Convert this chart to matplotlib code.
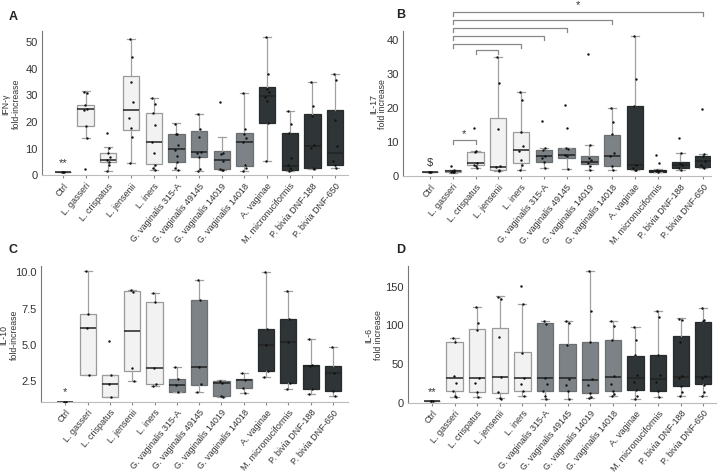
import matplotlib
matplotlib.use("Agg")
import matplotlib.pyplot as plt
from matplotlib import font_manager

plt.rcParams['font.family'] = ['Liberation Sans', 'DejaVu Sans']

# narrow face for the crowded category labels, if there is one
names = set(f.name for f in font_manager.fontManager.ttflist)
if 'Liberation Sans Narrow' in names:
    xfont, xsize = 'Liberation Sans Narrow', 7.6
else:
    xfont, xsize = 'Liberation Sans', 6.5

# categories
labels = ['Ctrl', 'L. gasseri', 'L. crispatus', 'L. jensenii', 'L. iners',
          'G. vaginalis 315-A', 'G. vaginalis 49145', 'G. vaginalis 14019',
          'G. vaginalis 14018', 'A. vaginae', 'M. micronuciformis',
          'P. bivia DNF-188', 'P. bivia DNF-650']
groups = ['ctrl', 'lac', 'lac', 'lac', 'lac', 'gv', 'gv', 'gv', 'gv', 'bv', 'bv', 'bv', 'bv']

# IFN-g (panel A)
ifng_q1 = [1, 18.1, 4.5, 16.4, 3.75, 4.75, 6.6, 1.9, 3.0, 19.3, 1.6, 2.2, 3.5]
ifng_med = [1, 24.4, 5.5, 24.2, 12.1, 9.6, 8.5, 5.4, 11.9, 29.5, 3.0, 10.5, 8.0]
ifng_q3 = [1, 25.9, 8.0, 36.9, 23.1, 15.0, 16.1, 8.6, 15.5, 32.6, 15.4, 22.6, 24.2]
ifng_lo = [1, 13.4, 1.2, 4.2, 1.6, 1.4, 1.2, 1.4, 1.2, 5.0, 1.2, 1.8, 2.2]
ifng_hi = [1, 31.2, 10.2, 50.6, 28.7, 19.3, 22.4, 13.8, 30.5, 51.6, 23.7, 34.7, 37.4]
ifng_pts = [[1, 1, 1], [31, 30.5, 26, 24.5, 24, 18, 13.4, 1.9],
            [15.3, 10, 8, 6.5, 5.5, 4.7, 3.3, 1.2],
            [50.6, 44, 34.5, 27, 21, 17.5, 14, 4.2],
            [28.7, 26.5, 23, 18.5, 12, 8, 3.5, 2.5, 1.6],
            [19, 15, 15, 11, 9, 7, 4.5, 2.5, 1.4],
            [22.4, 17, 14, 8.5, 8, 6.5, 2, 1.2],
            [27, 8, 7.5, 5, 2, 1.5, 1.5],
            [30.5, 17, 15, 13.5, 12, 3.5, 2.5, 1.2],
            [51.6, 37.5, 32, 31, 29, 27.5, 19.3, 5],
            [23.7, 19, 15.4, 6, 3.5, 2.5, 1.5, 1.2],
            [34.7, 25.5, 22, 11, 10, 2.2, 1.8],
            [37.4, 35.5, 20.5, 10.5, 5, 3.5, 2.2]]

# IL-17 (panel B)
il17_q1 = [1, 0.9, 2.9, 1.4, 3.4, 3.7, 5.1, 3.2, 2.7, 1.7, 1.0, 2.0, 2.2]
il17_med = [1, 1.1, 3.5, 2.2, 7.3, 5.6, 6.0, 3.9, 5.6, 2.8, 1.3, 2.9, 4.0]
il17_q3 = [1, 1.4, 6.9, 16.8, 12.6, 7.3, 7.8, 5.5, 11.7, 20.4, 1.6, 3.8, 5.6]
il17_lo = [1, 0.7, 2.0, 1.1, 1.5, 1.9, 1.7, 1.5, 1.5, 1.4, 0.8, 1.6, 2.0]
il17_hi = [1, 1.6, 7.1, 34.6, 24.3, 7.9, 8.0, 8.7, 19.7, 40.9, 1.7, 6.5, 6.3]
il17_pts = [[1, 1, 1], [2.6, 1.4, 1.2, 1.1, 1.0, 0.9, 0.8],
            [13.8, 7, 6.7, 3.5, 3, 2.5, 2],
            [34.6, 27, 13.5, 2.7, 2.2, 1.4, 1.1],
            [24.3, 22, 12.5, 8.5, 7, 4.5, 3, 1.5],
            [16, 7.9, 7.3, 5.5, 5, 3.7, 1.9],
            [20.7, 13.8, 8, 7.5, 6, 5.5, 1.7],
            [35.7, 8.7, 5, 4.5, 3.5, 2.5, 1.5],
            [19.7, 15.5, 12, 6.5, 5.5, 2.7, 1.5],
            [40.9, 28.2, 20.4, 2.8, 2, 1.5, 1.4],
            [5.8, 3.5, 1.6, 1.3, 1.1, 1.0],
            [11, 6.5, 3.5, 2.9, 2, 1.6],
            [19.4, 6.3, 5.5, 4, 3, 2.2, 2]]

# IL-10 (panel C)
il10_q1 = [1, 2.83, 1.34, 3.12, 2.25, 1.65, 2.16, 1.36, 1.92, 3.12, 2.31, 1.85, 1.76]
il10_med = [1, 6.12, 2.2, 5.9, 3.32, 2.14, 3.36, 2.27, 2.5, 4.94, 5.14, 3.43, 3.0]
il10_q3 = [1, 7.06, 2.87, 8.62, 7.9, 2.54, 8.0, 2.43, 2.54, 6.04, 6.68, 3.52, 3.47]
il10_lo = [1, 2.83, 1.34, 2.43, 2.09, 1.65, 1.69, 1.29, 1.6, 2.7, 1.87, 1.54, 1.36]
il10_hi = [1, 10.02, 2.87, 8.73, 8.5, 3.39, 9.44, 2.47, 2.98, 9.98, 8.66, 5.32, 4.74]
il10_pts = [[1, 1], [10, 7.06, 6.12, 2.83], [5.2, 2.87, 2.2, 1.34],
            [8.7, 8.55, 3.3, 2.43], [8.5, 7.9, 3.32, 2.25, 2.09],
            [3.39, 2.54, 2.14, 1.65], [9.44, 8.0, 3.36, 2.2, 1.69],
            [2.43, 2.3, 1.36, 1.29], [2.98, 2.5, 1.92, 1.6],
            [9.98, 6.04, 4.94, 3.12, 2.7], [8.66, 6.68, 5.14, 2.31, 1.87],
            [5.32, 3.5, 3.43, 1.85, 1.54], [4.74, 3.0, 1.76, 1.36]]

# IL-6 (panel D)
il6_q1 = [1, 13.7, 12, 11.6, 14.1, 14.1, 13.7, 11.6, 13.7, 15.3, 14.5, 20.3, 22.4]
il6_med = [1, 30.7, 30.7, 31.5, 30.3, 30.7, 30.3, 28.6, 31.5, 30.7, 29.4, 31.9, 31.9]
il6_q3 = [1, 76.7, 94, 96, 63.8, 101.5, 74.2, 76.7, 79.6, 59.7, 61, 84.5, 103.6]
il6_lo = [1, 6.6, 6.2, 5.0, 7.5, 3.7, 4.1, 4.5, 7.0, 4.1, 6.2, 7.0, 7.0]
il6_hi = [1, 82.9, 122.7, 136.3, 126.8, 104.8, 104.8, 169, 104.4, 97, 117.3, 107.7, 121.8]
il6_pts = [[1, 1, 1], [82, 77, 33, 24, 13.5, 7, 6.5],
           [122.7, 102, 93, 31, 24, 12, 6.2],
           [136, 133, 84, 31.5, 13, 5, 3.5],
           [150, 126.8, 63, 31, 23, 14, 7.5],
           [104.8, 101, 31, 23, 14, 7, 3.7],
           [104.8, 102, 74, 30, 22, 13.7, 4.1],
           [169, 118, 77, 30, 22, 11.6, 6, 4.5],
           [104.4, 98, 79.6, 33, 23, 13.7, 9.5, 7],
           [97, 80, 60, 35, 25, 15, 8, 4],
           [117, 110, 61, 34, 25, 14.5, 6.2],
           [107, 106, 77, 33, 31, 20, 13, 7],
           [121.8, 106, 104, 33, 31, 22, 13, 7]]

fill = {'ctrl': '#f2f2f2', 'lac': '#f2f2f2', 'gv': '#7c8285', 'bv': '#2f3537'}
edge = {'ctrl': '#8a8a8a', 'lac': '#9a9a9a', 'gv': '#6a6f72', 'bv': '#262b2d'}
jit = [-0.06, 0.04, -0.02, 0.07, -0.08, 0.01, 0.05, -0.04, 0.08]


def panel(ax, q1, med, q3, lo, hi, pts, ylabel, ylim, yticks, xlim, labx, ytfmt=None):
    stats = []
    for i in range(len(labels)):
        stats.append(dict(med=med[i], q1=q1[i], q3=q3[i], whislo=lo[i], whishi=hi[i], fliers=[]))
    pos = list(range(len(labels)))
    bp = ax.bxp(stats, positions=pos, widths=0.72, patch_artist=True, showfliers=False,
                boxprops=dict(linewidth=0.9),
                whiskerprops=dict(color='#a0a0a0', linewidth=0.9),
                capprops=dict(color='#a0a0a0', linewidth=0.9),
                medianprops=dict(color='#222222', linewidth=1.1))
    for i, b in enumerate(bp['boxes']):
        b.set_facecolor(fill[groups[i]])
        b.set_edgecolor(edge[groups[i]])
    for i, p in enumerate(pts):
        xs = [i + jit[k % len(jit)] for k in range(len(p))]
        ax.scatter(xs, p, s=3, color='#111111', zorder=5, linewidths=0)
    ax.set_xlim(*xlim)
    ax.set_ylim(*ylim)
    ax.set_yticks(yticks)
    if ytfmt:
        ax.set_yticklabels([ytfmt % v for v in yticks])
    ax.set_xticks(pos)
    ax.set_xticklabels(labels, rotation=50, ha='right', rotation_mode='anchor',
                       fontsize=xsize, family=xfont, color='#333333')
    ax.tick_params(axis='y', labelsize=8, labelcolor='#333333', length=0, pad=3)
    ax.tick_params(axis='x', length=2, color='#888888', pad=2)
    ax.set_ylabel(ylabel, fontsize=6.3, color='#333333', linespacing=1.1)
    ax.yaxis.set_label_coords(labx, 0.5)
    for s in ['top', 'right']:
        ax.spines[s].set_visible(False)
    ax.spines['left'].set_color('#777777')
    ax.spines['left'].set_linewidth(0.8)
    ax.spines['bottom'].set_color('#bbbbbb')
    ax.spines['bottom'].set_linewidth(0.8)


fig = plt.figure(figsize=(7.22, 4.77), dpi=100)
axA = fig.add_axes([0.058, 0.631, 0.424, 0.302])
axB = fig.add_axes([0.558, 0.629, 0.427, 0.304])
axC = fig.add_axes([0.057, 0.156, 0.425, 0.285])
axD = fig.add_axes([0.565, 0.154, 0.427, 0.287])

panel(axA, ifng_q1, ifng_med, ifng_q3, ifng_lo, ifng_hi, ifng_pts,
      'IFN-γ\nfold-increase', (-0.3, 53.7), [0, 10, 20, 30, 40, 50], (-0.93, 12.57), -0.07)
panel(axB, il17_q1, il17_med, il17_q3, il17_lo, il17_hi, il17_pts,
      'IL-17\nfold increase', (-0.3, 42.4), [0, 10, 20, 30, 40], (-1.19, 12.35), -0.05)
panel(axC, il10_q1, il10_med, il10_q3, il10_lo, il10_hi, il10_pts,
      'IL-10\nfold-increase', (1.0, 10.4), [2.5, 5.0, 7.5, 10.0], (-1.08, 12.67), -0.074, '%.1f')
panel(axD, il6_q1, il6_med, il6_q3, il6_lo, il6_hi, il6_pts,
      'IL-6\nfold increase', (-1, 176), [0, 50, 100, 150], (-1.06, 12.57), -0.082)

# control markers
axA.text(0, 2.5, '**', ha='center', va='bottom', fontsize=8, color='#333333')
axB.text(0, 2.3, '$', ha='center', va='bottom', fontsize=8, color='#333333')
axC.text(0, 1.35, '*', ha='center', va='bottom', fontsize=8, color='#333333')
axD.text(0, 7, '**', ha='center', va='bottom', fontsize=8, color='#333333')

# significance brackets in panel B
brackets = [(1, 2, 10.2), (2, 3, 36.8), (1, 4, 38.5), (1, 5, 41.0),
            (1, 6, 43.2), (1, 8, 45.7), (1, 12, 48.1)]
for x1, x2, y in brackets:
    axB.plot([x1, x1, x2, x2], [y - 1.2, y, y, y - 1.2], color='#888888',
             linewidth=0.9, clip_on=False)
axB.text(1.5, 11.0, '*', ha='center', va='bottom', fontsize=8, color='#333333')
axB.text(6.5, 48.9, '*', ha='center', va='bottom', fontsize=8, color='#333333', clip_on=False)

for t, x, y in [('A', 0.012, 0.965), ('B', 0.548, 0.968), ('C', 0.012, 0.475), ('D', 0.548, 0.475)]:
    fig.text(x, y, t, fontsize=9, fontweight='bold', color='#222222', va='center')

fig.savefig('out.png', dpi=100)
